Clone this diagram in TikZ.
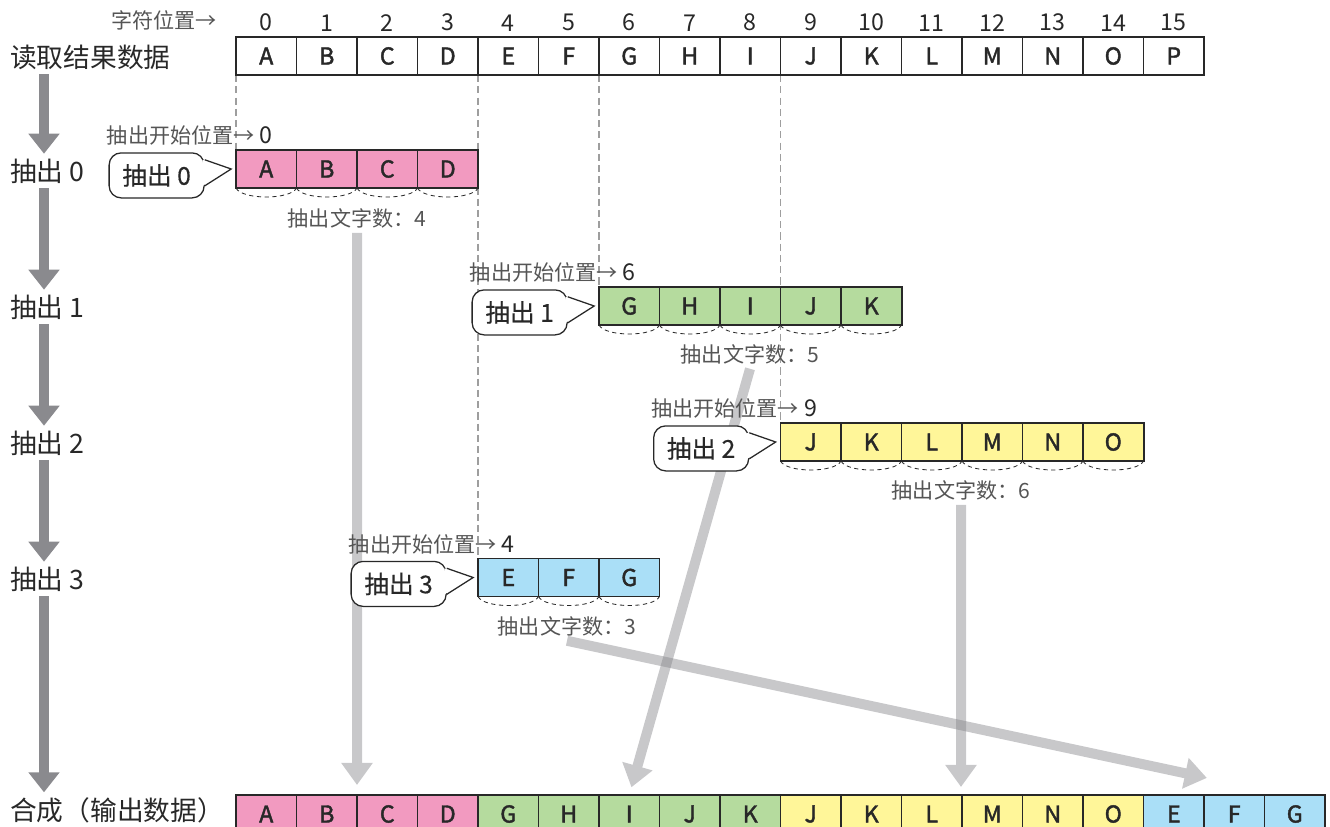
\documentclass[tikz,border=0pt]{standalone}
\usepackage{fontspec}
\setmainfont{Noto Sans CJK SC}
\newfontfamily\cellfont{Noto Sans CJK SC}[FakeBold=1.8]
\newfontfamily\bubblefont{Noto Sans CJK SC}[FakeBold=0.4]
\usetikzlibrary{positioning,arrows.meta,backgrounds}
\definecolor{expink}{RGB}{242,154,192}
\definecolor{exgreen}{RGB}{181,219,158}
\definecolor{exyellow}{RGB}{255,246,153}
\definecolor{exblue}{RGB}{170,223,247}
\definecolor{txtgray}{RGB}{85,85,85}
\definecolor{txtdark}{RGB}{40,40,40}
\definecolor{flowgray}{RGB}{138,138,142}
\definecolor{copygray}{RGB}{133,133,138}

\begin{document}
\begin{tikzpicture}[
    x=0.025cm, y=-0.025cm,
    every node/.style={text=txtdark},
    cell/.style={draw=txtdark, minimum width=1.5125cm, minimum height=0.95cm, inner sep=0pt, outer sep=0pt, font=\cellfont\fontsize{16.5}{19}\selectfont},
    srccell/.style={cell, line width=0.8pt},
    excell/.style={cell, line width=1.4pt},
    idx/.style={font=\fontsize{16.5}{19}\selectfont},
    small/.style={font=\fontsize{15}{18}\selectfont, text=txtgray},
    rowlbl/.style={font=\fontsize{19}{23}\selectfont, anchor=west, inner xsep=0pt},
    bubble/.style={draw=txtdark, fill=white, line width=0.9pt, rounded corners=0.3cm, minimum width=2.375cm, minimum height=1.125cm, font=\bubblefont\fontsize{17.5}{20}\selectfont},
    brace/.style={draw=txtdark, dash pattern=on 3pt off 2.5pt, line width=0.6pt},
    guide/.style={draw=black!38, dash pattern=on 5pt off 3pt, line width=0.9pt},
    flow/.style={draw=flowgray, line width=0.25cm, -{Triangle[width=0.75cm, length=0.5cm]}},
    copyarrow/.style={draw=copygray, line width=0.25cm, -{Triangle[width=0.75cm, length=0.55cm]}},
    faded/.style={transparency group, opacity=0.45}
  ]
    \useasboundingbox (0,0) rectangle (1330,827);
    \clip (0,0) rectangle (1330,827);

    % 读取结果数据
    \node[small, anchor=east, inner xsep=0pt] (poslbl) at (217,20) {字符位置→};
    \node[rowlbl] (lblsrc) at (10,57) {读取结果数据};
    \foreach \ch [count=\i from 0] in {A,B,C,D,E,F,G,H,I,J,K,L,M,N,O,P} {
      \node[srccell] (src\i) at ({236+60.5*(\i+0.5)}, 56) {\ch};
      \node[idx, above=0.02cm of src\i] (num\i) {\i};
    }

    % 抽出 0
    \node[rowlbl] (lbl0) at (10,171) {抽出 0};
    \foreach \ch [count=\i from 0] in {A,B,C,D} {
      \node[excell, fill=expink] (ex0-\i) at ({236+60.5*(\i+0.5)}, 169) {\ch};
      \draw[brace] (ex0-\i.south west) .. controls +(6,12) and +(-6,12) .. (ex0-\i.south east);
    }
    \node[idx, above=0.02cm of ex0-0] (st0) {0};
    \node[small, anchor=base east, inner xsep=0pt] (stl0) at (st0.base west) {抽出开始位置→};
    \node[small] (cnt0) at (357,218) {抽出文字数：4};
    \node[bubble, left=0.78cm of ex0-0.west, yshift=-0.16cm] (cb0) {抽出 0};
    \fill[white] ([xshift=-1.5pt, yshift=0.39cm]cb0.east) -- ([xshift=-0.12cm]ex0-0.west) -- ([xshift=-1.5pt, yshift=-0.26cm]cb0.east) -- cycle;
    \draw[line width=0.9pt, txtdark] ([yshift=0.39cm]cb0.east) -- ([xshift=-0.12cm]ex0-0.west) -- ([yshift=-0.26cm]cb0.east);

    % 抽出 1
    \node[rowlbl] (lbl1) at (10,307) {抽出 1};
    \foreach \ch [count=\i from 0] in {G,H,I,J,K} {
      \node[excell, fill=exgreen] (ex1-\i) at ({236+60.5*(\i+6.5)}, 306) {\ch};
      \draw[brace] (ex1-\i.south west) .. controls +(6,12) and +(-6,12) .. (ex1-\i.south east);
    }
    \node[idx, above=0.02cm of ex1-0] (st1) {6};
    \node[small, anchor=base east, inner xsep=0pt] (stl1) at (st1.base west) {抽出开始位置→};
    \node[small] (cnt1) at (750,354) {抽出文字数：5};
    \node[bubble, left=0.78cm of ex1-0.west, yshift=-0.16cm] (cb1) {抽出 1};
    \fill[white] ([xshift=-1.5pt, yshift=0.39cm]cb1.east) -- ([xshift=-0.12cm]ex1-0.west) -- ([xshift=-1.5pt, yshift=-0.26cm]cb1.east) -- cycle;
    \draw[line width=0.9pt, txtdark] ([yshift=0.39cm]cb1.east) -- ([xshift=-0.12cm]ex1-0.west) -- ([yshift=-0.26cm]cb1.east);

    % 抽出 2
    \node[rowlbl] (lbl2) at (10,443) {抽出 2};
    \foreach \ch [count=\i from 0] in {J,K,L,M,N,O} {
      \node[excell, fill=exyellow] (ex2-\i) at ({236+60.5*(\i+9.5)}, 442) {\ch};
      \draw[brace] (ex2-\i.south west) .. controls +(6,12) and +(-6,12) .. (ex2-\i.south east);
    }
    \node[idx, above=0.02cm of ex2-0] (st2) {9};
    \node[small, anchor=base east, inner xsep=0pt] (stl2) at (st2.base west) {抽出开始位置→};
    \node[small] (cnt2) at (961,490) {抽出文字数：6};
    \node[bubble, left=0.78cm of ex2-0.west, yshift=-0.16cm] (cb2) {抽出 2};
    \fill[white] ([xshift=-1.5pt, yshift=0.39cm]cb2.east) -- ([xshift=-0.12cm]ex2-0.west) -- ([xshift=-1.5pt, yshift=-0.26cm]cb2.east) -- cycle;
    \draw[line width=0.9pt, txtdark] ([yshift=0.39cm]cb2.east) -- ([xshift=-0.12cm]ex2-0.west) -- ([yshift=-0.26cm]cb2.east);

    % 抽出 3
    \node[rowlbl] (lbl3) at (10,579) {抽出 3};
    \foreach \ch [count=\i from 0] in {E,F,G} {
      \node[excell, fill=exblue] (ex3-\i) at ({236+60.5*(\i+4.5)}, 577.5) {\ch};
      \draw[brace] (ex3-\i.south west) .. controls +(6,12) and +(-6,12) .. (ex3-\i.south east);
    }
    \node[idx, above=0.02cm of ex3-0] (st3) {4};
    \node[small, anchor=base east, inner xsep=0pt] (stl3) at (st3.base west) {抽出开始位置→};
    \node[small] (cnt3) at (567,626) {抽出文字数：3};
    \node[bubble, left=0.78cm of ex3-0.west, yshift=-0.16cm] (cb3) {抽出 3};
    \fill[white] ([xshift=-1.5pt, yshift=0.39cm]cb3.east) -- ([xshift=-0.12cm]ex3-0.west) -- ([xshift=-1.5pt, yshift=-0.26cm]cb3.east) -- cycle;
    \draw[line width=0.9pt, txtdark] ([yshift=0.39cm]cb3.east) -- ([xshift=-0.12cm]ex3-0.west) -- ([yshift=-0.26cm]cb3.east);

    % 合成（输出数据）
    \node[rowlbl] (lblout) at (10,810) {合成（输出数据）};
    \foreach \ch/\col [count=\i from 0] in {A/expink,B/expink,C/expink,D/expink,
        G/exgreen,H/exgreen,I/exgreen,J/exgreen,K/exgreen,
        J/exyellow,K/exyellow,L/exyellow,M/exyellow,N/exyellow,O/exyellow,
        E/exblue,F/exblue,G/exblue} {
      \node[excell, fill=\col] (out-\i) at ({236+60.5*(\i+0.5)}, 814) {\ch};
    }

    % arrows and guides behind
    \begin{pgfonlayer}{background}
      \coordinate (flowx) at (44,0);
      \draw[flow] (lblsrc.south -| flowx) -- (lbl0.north -| flowx);
      \draw[flow] (lbl0.south -| flowx) -- (lbl1.north -| flowx);
      \draw[flow] (lbl1.south -| flowx) -- (lbl2.north -| flowx);
      \draw[flow] (lbl2.south -| flowx) -- (lbl3.north -| flowx);
      \draw[flow] (lbl3.south -| flowx) -- (lblout.north -| flowx);

      \draw[guide] (src0.south west) -- (ex0-0.north west);
      \draw[guide] (src3.south east) -- (src3.south east |- ex3-0.north);
      \draw[guide] (src5.south east) -- (src5.south east |- ex1-0.north);
      \draw[guide] (src8.south east) -- (src8.south east |- ex2-0.north);

      \begin{scope}[faded]
        \draw[copyarrow, shorten >=0.25cm] (cnt0.south) -- (cnt0.south |- out-0.north);
      \end{scope}
      \begin{scope}[faded]
        \draw[copyarrow, shorten >=0.2cm] (cnt1.south) -- (out-6.north);
      \end{scope}
      \begin{scope}[faded]
        \draw[copyarrow, shorten >=0.2cm] (cnt2.south) -- (cnt2.south |- out-11.north);
      \end{scope}
      \begin{scope}[faded]
        \draw[copyarrow, shorten >=0.7cm] (cnt3.south) -- ([yshift=0.28cm]out-16.north);
      \end{scope}
    \end{pgfonlayer}
\end{tikzpicture}
\end{document}
